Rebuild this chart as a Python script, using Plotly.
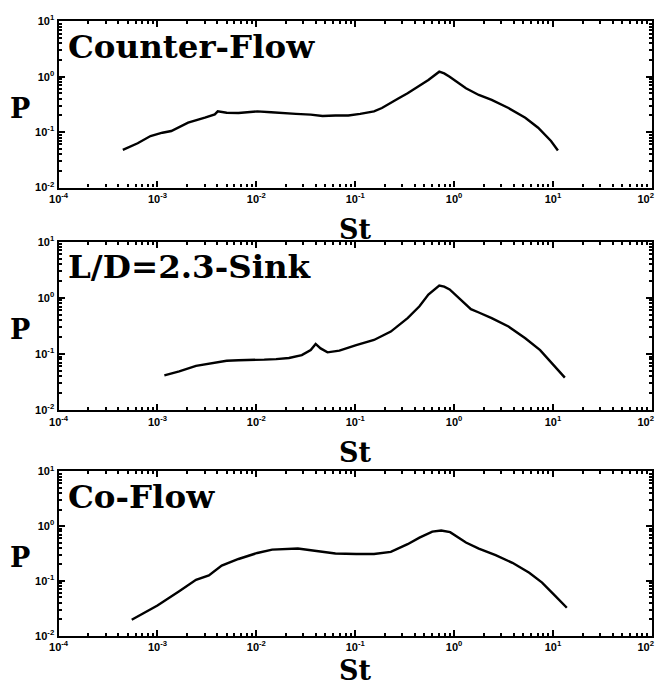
import plotly.graph_objects as go

W, H = 669, 687
# the page is shown with an 8px body margin and scaled by 669/685
SX, SY = 685 / 669, 703 / 687
OFF = 8

# ---- data (St, P) ----
cf_st = [10**v for v in [-3.35, -3.2, -3.07, -2.95, -2.86, -2.69, -2.52, -2.42, -2.39, -2.3, -2.18, -2.05, -1.99, -1.85, -1.75, -1.6, -1.45, -1.33, -1.2, -1.07, -0.95, -0.81, -0.73, -0.64, -0.56, -0.47, -0.39, -0.26, -0.15, -0.1, -0.045, 0.05, 0.12, 0.25, 0.38, 0.55, 0.72, 0.85, 0.98, 1.05]]
cf_p = [10**v for v in [-1.32, -1.2, -1.07, -1.01, -0.98, -0.83, -0.74, -0.68, -0.625, -0.65, -0.655, -0.64, -0.625, -0.64, -0.655, -0.67, -0.685, -0.71, -0.70, -0.70, -0.67, -0.625, -0.565, -0.48, -0.39, -0.30, -0.21, -0.06, 0.09, 0.06, 0.0, -0.12, -0.21, -0.33, -0.42, -0.565, -0.74, -0.92, -1.16, -1.33]]

sk_st = [10**v for v in [-2.93, -2.78, -2.61, -2.43, -2.3, -2.18, -2.05, -1.92, -1.8, -1.67, -1.54, -1.45, -1.40, -1.35, -1.28, -1.16, -0.99, -0.81, -0.64, -0.47, -0.35, -0.26, -0.15, -0.1, -0.045, 0.08, 0.17, 0.25, 0.38, 0.55, 0.72, 0.87, 1.02, 1.12]]
sk_p = [10**v for v in [-1.38, -1.31, -1.21, -1.15, -1.12, -1.11, -1.11, -1.10, -1.09, -1.07, -1.02, -0.93, -0.82, -0.90, -0.97, -0.94, -0.84, -0.75, -0.60, -0.36, -0.15, 0.06, 0.22, 0.20, 0.15, -0.06, -0.20, -0.26, -0.36, -0.51, -0.72, -0.93, -1.23, -1.42]]

co_st = [10**v for v in [-3.26, -3.0, -2.78, -2.61, -2.48, -2.35, -2.18, -1.99, -1.84, -1.58, -1.41, -1.2, -0.99, -0.81, -0.64, -0.47, -0.35, -0.22, -0.13, -0.04, 0.12, 0.25, 0.42, 0.59, 0.76, 0.89, 1.02, 1.14]]
co_p = [10**v for v in [-1.71, -1.45, -1.19, -0.98, -0.90, -0.72, -0.60, -0.49, -0.43, -0.41, -0.45, -0.50, -0.51, -0.51, -0.47, -0.33, -0.21, -0.10, -0.08, -0.11, -0.30, -0.41, -0.53, -0.67, -0.85, -1.03, -1.27, -1.49]]

panel_titles = ["Counter-Flow", "L/D=2.3-Sink", "Co-Flow"]
x_tickvals = [1e-4, 1e-3, 1e-2, 1e-1, 1e0, 1e1, 1e2]
x_ticktext = ["<b>10<sup>-4</sup></b>", "<b>10<sup>-3</sup></b>", "<b>10<sup>-2</sup></b>",
              "<b>10<sup>-1</sup></b>", "<b>10<sup>0</sup></b>", "<b>10<sup>1</sup></b>",
              "<b>10<sup>2</sup></b>&nbsp;&nbsp;&nbsp;&nbsp;"]
y_tickvals = [1e-2, 1e-1, 1e0, 1e1]
y_ticktext = ["<b>10<sup>-2</sup></b>", "<b>10<sup>-1</sup></b>", "<b>10<sup>0</sup></b>",
              "<b>10<sup>1</sup></b>"]
x_minor = [k * 10.0**e for e in range(-4, 2) for k in range(2, 10)]
y_minor = [k * 10.0**e for e in range(-2, 1) for k in range(2, 10)]

series = [(cf_st, cf_p), (sk_st, sk_p), (co_st, co_p)]

boxes = [(21, 187), (241, 409), (470, 634)]   # target picture pixels (top, bottom)
xl, xr = 57, 658


def px(x):
    return (x * SX - OFF) / W


def py(y):
    return 1 - (y * SY - OFF) / H


fig = go.Figure()
tickfont = dict(family="Liberation Sans", size=11, color="black")
for i, ((xs, ys), (top, bot)) in enumerate(zip(series, boxes)):
    n = "" if i == 0 else str(i + 1)
    fig.add_trace(go.Scatter(x=xs, y=ys, mode="lines",
                             line=dict(color="black", width=2.4),
                             xaxis="x" + n, yaxis="y" + n, showlegend=False))
    common = dict(ticks="inside", ticklen=6, tickwidth=2, tickcolor="black",
                  showline=True, linecolor="black", linewidth=2.3, mirror="ticks",
                  showgrid=False, zeroline=False, tickfont=tickfont,
                  ticklabeloverflow="allow")
    ax = dict(type="log", range=[-4, 2], tickmode="array", tickvals=x_tickvals,
              ticktext=x_ticktext,
              minor=dict(tickmode="array", tickvals=x_minor, ticks="inside",
                         ticklen=3, tickwidth=1.5, tickcolor="black", showgrid=False),
              domain=[px(xl), px(xr)], anchor="y" + n, **common)
    ay = dict(type="log", range=[-2, 1], tickmode="array", tickvals=y_tickvals,
              ticktext=y_ticktext,
              minor=dict(tickmode="array", tickvals=y_minor, ticks="inside",
                         ticklen=3, tickwidth=1.5, tickcolor="black", showgrid=False),
              domain=[py(bot), py(top)], anchor="x" + n, **common)
    fig.update_layout(**{"xaxis" + n: ax, "yaxis" + n: ay})
    fig.add_annotation(x=px(xl + 8), y=py(top + 25), xref="paper", yref="paper",
                       text="<b>" + panel_titles[i] + "</b>", showarrow=False,
                       xanchor="left", yanchor="middle",
                       font=dict(family="DejaVu Serif", size=32.5, color="black"))
    fig.add_annotation(x=px(18), y=py((top + bot) / 2 + 4), xref="paper", yref="paper",
                       text="<b>P</b>", showarrow=False, xanchor="center", yanchor="middle",
                       font=dict(family="DejaVu Serif", size=27, color="black"))
    st_y = bot + 42 if i < 2 else bot + 35
    fig.add_annotation(x=px(357), y=py(st_y), xref="paper", yref="paper",
                       text="<b>St</b>", showarrow=False, xanchor="center", yanchor="middle",
                       font=dict(family="DejaVu Serif", size=27, color="black"))

fig.update_layout(width=W, height=H, margin=dict(l=0, r=0, t=0, b=0),
                  paper_bgcolor="white", plot_bgcolor="white")
fig.write_html("out.html")
